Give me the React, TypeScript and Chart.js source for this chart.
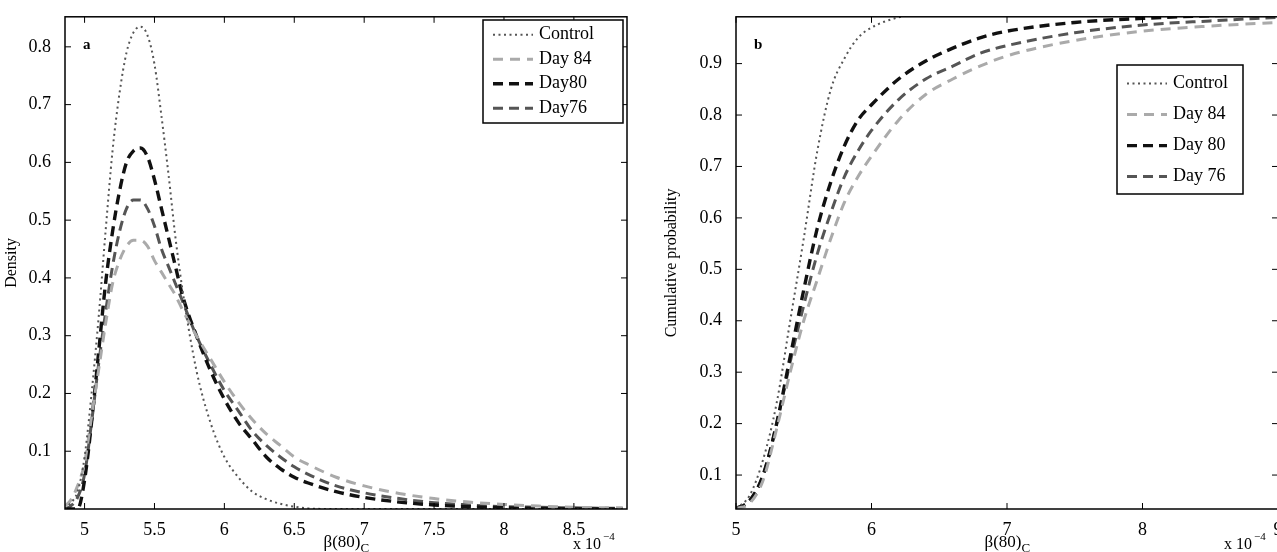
import React, { useRef, useEffect } from 'react';
import { Chart, registerables } from 'chart.js';

Chart.register(...registerables);

// panel a: density
const densX = [4.86, 4.9, 4.95, 5.0, 5.05, 5.1, 5.15, 5.2, 5.25, 5.3, 5.35, 5.4, 5.45, 5.5, 5.55, 5.6, 5.65, 5.7, 5.8, 5.9, 6.0, 6.1, 6.2, 6.3, 6.4, 6.5, 6.6, 6.8, 7.0, 7.25, 7.5, 7.75, 8.0, 8.25, 8.5, 8.85];
const densControl = [0, 0.01, 0.03, 0.09, 0.2, 0.33, 0.48, 0.62, 0.72, 0.79, 0.825, 0.835, 0.82, 0.77, 0.68, 0.58, 0.47, 0.38, 0.24, 0.15, 0.09, 0.055, 0.03, 0.017, 0.009, 0.004, 0.001, 0, 0, 0, 0, 0, 0, 0, 0, 0];
const densDay84 = [0.005, 0.015, 0.04, 0.08, 0.16, 0.24, 0.32, 0.39, 0.43, 0.455, 0.465, 0.465, 0.455, 0.43, 0.41, 0.39, 0.37, 0.345, 0.3, 0.26, 0.22, 0.185, 0.155, 0.13, 0.11, 0.09, 0.077, 0.055, 0.04, 0.027, 0.018, 0.012, 0.008, 0.005, 0.003, 0.002];
const densDay80 = [0, 0, 0, 0.05, 0.15, 0.27, 0.39, 0.48, 0.55, 0.6, 0.62, 0.625, 0.61, 0.57, 0.52, 0.47, 0.42, 0.37, 0.3, 0.24, 0.19, 0.15, 0.12, 0.09, 0.07, 0.055, 0.045, 0.03, 0.02, 0.012, 0.007, 0.004, 0.002, 0.001, 0, 0];
const densDay76 = [0, 0.005, 0.02, 0.06, 0.15, 0.25, 0.34, 0.42, 0.48, 0.52, 0.535, 0.535, 0.52, 0.49, 0.45, 0.42, 0.39, 0.36, 0.3, 0.25, 0.205, 0.17, 0.135, 0.11, 0.09, 0.073, 0.06, 0.04, 0.028, 0.018, 0.011, 0.007, 0.004, 0.003, 0.002, 0.001];
const densXTicks = [5, 5.5, 6, 6.5, 7, 7.5, 8, 8.5];
const densYTicks = [0.1, 0.2, 0.3, 0.4, 0.5, 0.6, 0.7, 0.8];

// panel b: cumulative
const cdfX = [5.0, 5.1, 5.2, 5.3, 5.4, 5.5, 5.6, 5.7, 5.8, 5.9, 6.0, 6.2, 6.4, 6.6, 6.8, 7.0, 7.5, 8.0, 8.5, 9.0];
const cdfControl = [0.035, 0.06, 0.13, 0.24, 0.4, 0.56, 0.73, 0.85, 0.91, 0.95, 0.97, 0.99, 0.998, 1, 1, 1, 1, 1, 1, 1];
const cdfDay84 = [0.035, 0.045, 0.09, 0.19, 0.3, 0.4, 0.48, 0.56, 0.63, 0.68, 0.72, 0.79, 0.84, 0.87, 0.895, 0.915, 0.945, 0.963, 0.973, 0.98];
const cdfDay80 = [0.035, 0.05, 0.1, 0.2, 0.33, 0.46, 0.58, 0.67, 0.74, 0.79, 0.82, 0.87, 0.905, 0.93, 0.95, 0.963, 0.98, 0.988, 0.993, 0.996];
const cdfDay76 = [0.035, 0.05, 0.1, 0.2, 0.32, 0.43, 0.53, 0.61, 0.68, 0.73, 0.77, 0.83, 0.87, 0.895, 0.92, 0.935, 0.96, 0.975, 0.983, 0.99];
const cdfXTicks = [5, 6, 7, 8, 9];
const cdfYTicks = [0.1, 0.2, 0.3, 0.4, 0.5, 0.6, 0.7, 0.8, 0.9];

const SERIF = '"Liberation Serif", "DejaVu Serif", serif';

const styles = [
  { color: '#555', dash: [2, 3.5], width: 2 },
  { color: '#aaa', dash: [10, 7], width: 3 },
  { color: '#111', dash: [10, 6], width: 3.4 },
  { color: '#555', dash: [10, 6], width: 3 },
];

interface PanelProps {
  xs: number[];
  series: number[][];
  names: string[];
  xMin: number; xMax: number; yMin: number; yMax: number;
  xTicks: number[]; yTicks: number[];
  yTitle: string; letter: string;
  yWidth: number; padRight: number;
  legend: { x: number; y: number; w: number; h: number; row: number };
}

const Panel: React.FC<PanelProps> = (p) => {
  const canvasRef = useRef<HTMLCanvasElement>(null);

  useEffect(() => {
    if (!canvasRef.current) return;
    const decor = {
      id: 'decor',
      afterDraw(chart: any) {
        const { ctx, chartArea: a, scales } = chart;
        ctx.save();
        ctx.strokeStyle = '#000';
        ctx.lineWidth = 1.5;
        ctx.strokeRect(a.left, a.top, a.right - a.left, a.bottom - a.top);
        ctx.lineWidth = 1;
        ctx.beginPath();
        p.xTicks.forEach((t) => {
          const x = scales.x.getPixelForValue(t);
          ctx.moveTo(x, a.bottom); ctx.lineTo(x, a.bottom - 6);
          ctx.moveTo(x, a.top); ctx.lineTo(x, a.top + 6);
        });
        p.yTicks.forEach((t) => {
          const y = scales.y.getPixelForValue(t);
          ctx.moveTo(a.left, y); ctx.lineTo(a.left + 6, y);
          ctx.moveTo(a.right, y); ctx.lineTo(a.right - 6, y);
        });
        ctx.stroke();
        ctx.fillStyle = '#000';
        ctx.font = `bold 15px ${SERIF}`;
        ctx.textBaseline = 'alphabetic';
        ctx.fillText(p.letter, a.left + 18, a.top + 32);
        // x axis title with subscript
        const cx = (a.left + a.right) / 2;
        ctx.font = `17px ${SERIF}`;
        const w = ctx.measureText('β(80)').width;
        ctx.fillText('β(80)', cx - w / 2 - 4, a.bottom + 38);
        ctx.font = `13px ${SERIF}`;
        ctx.fillText('C', cx + w / 2 - 4, a.bottom + 43);
        ctx.font = `16px ${SERIF}`;
        ctx.fillText('x 10', a.right - 54, a.bottom + 40);
        ctx.font = `11px ${SERIF}`;
        ctx.fillText('−4', a.right - 24, a.bottom + 31);
        // legend
        const L = p.legend;
        ctx.fillStyle = '#fff';
        ctx.fillRect(L.x, L.y, L.w, L.h);
        ctx.lineWidth = 1.5;
        ctx.strokeStyle = '#000';
        ctx.strokeRect(L.x, L.y, L.w, L.h);
        ctx.font = `18px ${SERIF}`;
        ctx.textBaseline = 'middle';
        p.names.forEach((n, i) => {
          const s = styles[i];
          const y = L.y + L.row * (i + 0.6);
          ctx.beginPath();
          ctx.setLineDash(s.dash);
          ctx.strokeStyle = s.color;
          ctx.lineWidth = s.width;
          ctx.moveTo(L.x + 10, y); ctx.lineTo(L.x + 50, y);
          ctx.stroke();
          ctx.setLineDash([]);
          ctx.fillStyle = '#000';
          ctx.fillText(n, L.x + 56, y);
        });
        ctx.restore();
      },
    };
    const chart = new Chart(canvasRef.current, {
      type: 'line',
      data: {
        datasets: p.series.map((ys, i) => ({
          label: p.names[i],
          data: p.xs.map((x, j) => ({ x, y: ys[j] })),
          borderColor: styles[i].color,
          borderDash: styles[i].dash,
          borderWidth: styles[i].width,
          pointRadius: 0,
          cubicInterpolationMode: 'monotone' as const,
        })),
      },
      options: {
        animation: false,
        responsive: true,
        maintainAspectRatio: false,
        layout: { padding: { top: 15, right: p.padRight, left: 0, bottom: 0 } },
        plugins: { legend: { display: false }, tooltip: { enabled: false } },
        scales: {
          x: {
            type: 'linear', min: p.xMin, max: p.xMax,
            grid: { display: false },
            border: { display: false },
            afterBuildTicks: (s: any) => { s.ticks = p.xTicks.map((v) => ({ value: v })); },
            afterFit: (s: any) => { s.height = 43; },
            ticks: { color: '#000', font: { family: SERIF, size: 18 }, maxRotation: 0, padding: 2, callback: (v: any) => String(v) },
          },
          y: {
            min: p.yMin, max: p.yMax,
            grid: { display: false },
            border: { display: false },
            afterBuildTicks: (s: any) => { s.ticks = p.yTicks.map((v) => ({ value: v })); },
            afterFit: (s: any) => { s.width = p.yWidth; },
            title: { display: true, text: p.yTitle, color: '#000', font: { family: SERIF, size: 16 }, padding: 2 },
            ticks: { color: '#000', font: { family: SERIF, size: 18 }, padding: 6, callback: (v: any) => String(v) },
          },
        },
      },
      plugins: [decor],
    });
    return () => chart.destroy();
  }, []);

  return <canvas ref={canvasRef} />;
};

export default function App() {
  return (
    <div style={{ position: 'fixed', left: 0, top: 0, width: 1277, height: 552, overflow: 'hidden', background: '#fff' }}>
      <div style={{ position: 'absolute', left: 0, top: 0, width: 640, height: 552 }}>
        <Panel xs={densX} series={[densControl, densDay84, densDay80, densDay76]} names={['Control', 'Day 84', 'Day80', 'Day76']}
          xMin={4.86} xMax={8.88} yMin={0} yMax={0.852} xTicks={densXTicks} yTicks={densYTicks}
          yTitle="Density" letter="a" yWidth={65} padRight={13}
          legend={{ x: 483, y: 20, w: 140, h: 103, row: 24.5 }} />
      </div>
      <div style={{ position: 'absolute', left: 660, top: 0, width: 640, height: 552 }}>
        <Panel xs={cdfX} series={[cdfControl, cdfDay84, cdfDay80, cdfDay76]} names={['Control', 'Day 84', 'Day 80', 'Day 76']}
          xMin={5} xMax={9} yMin={0.034} yMax={0.991} xTicks={cdfXTicks} yTicks={cdfYTicks}
          yTitle="Cumulative probability" letter="b" yWidth={76} padRight={22}
          legend={{ x: 457, y: 65, w: 126, h: 129, row: 31 }} />
      </div>
    </div>
  );
}
